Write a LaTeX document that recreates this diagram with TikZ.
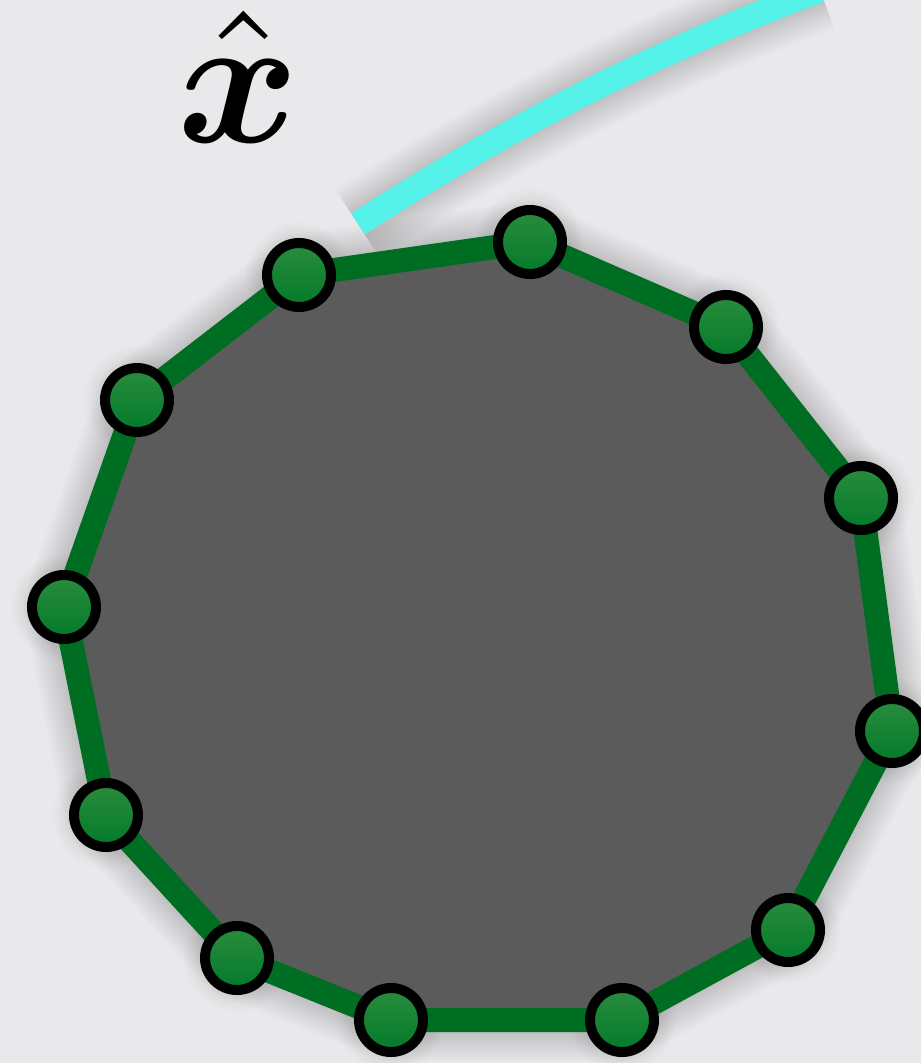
\documentclass[tikz,border=0pt]{standalone}
\usepackage{bm}
\definecolor{bgc}{HTML}{E9E8EA}
\definecolor{polyfill}{HTML}{5B5B5B}
\definecolor{edgegreen}{HTML}{006E22}
\definecolor{nodetop}{HTML}{2A8C3E}
\definecolor{nodebot}{HTML}{037A2A}
\definecolor{cyanline}{HTML}{55F2EA}
\pgfdeclarelayer{background}
\pgfsetlayers{background,main}
\tikzset{
  vert/.style={circle,draw=black,line width=10pt,minimum size=64pt,inner sep=0pt,
    top color=nodetop,bottom color=nodebot},
  polyedge/.style={draw=edgegreen,line width=24pt,line join=round},
  curveline/.style={draw=cyanline,line width=25pt},
  shadowline/.style={draw=black,opacity=0.016,line join=round,line cap=round}
}
\begin{document}
\begin{tikzpicture}[x=1pt,y=-1pt]
\useasboundingbox (0,0) rectangle (921,1063);
% vertices
\coordinate (p1) at (530,242);
\coordinate (p2) at (726,327);
\coordinate (p3) at (861,498);
\coordinate (p4) at (892,731);
\coordinate (p5) at (788,930);
\coordinate (p6) at (622,1020);
\coordinate (p7) at (391,1020);
\coordinate (p8) at (237,958);
\coordinate (p9) at (106,815);
\coordinate (p10) at (64,607);
\coordinate (p11) at (137,400);
\coordinate (p12) at (299,275);
\coordinate (c0) at (358,224);
\coordinate (c1) at (820,-10);
% nodes
\foreach \i in {1,...,12}{\node[vert] (v\i) at (p\i) {};}
\node[scale=18.5] (lbl) at (238,77) {$\hat{\bm{x}}$};
\begin{pgfonlayer}{background}
\fill[bgc] (0,0) rectangle (921,1063);
% shadows
\foreach \w in {28,34,...,82}{
  \draw[shadowline,line width=\w pt] (p1)--(p2)--(p3)--(p4)--(p5)--(p6)--(p7)--(p8)--(p9)--(p10)--(p11)--(p12)--cycle;
  \draw[shadowline,line width=\w pt,line cap=butt] (c0) .. controls (515,122) and (672,45) .. (c1);
  \foreach \i in {1,...,12}{\fill[black,opacity=0.011] (p\i) circle ({\w/2+12});}
}
% polygon
\fill[polyfill] (p1)--(p2)--(p3)--(p4)--(p5)--(p6)--(p7)--(p8)--(p9)--(p10)--(p11)--(p12)--cycle;
\draw[polyedge] (v1.center)--(v2.center)--(v3.center)--(v4.center)--(v5.center)--(v6.center)--(v7.center)--(v8.center)--(v9.center)--(v10.center)--(v11.center)--(v12.center)--cycle;
% cyan curve
\draw[curveline] (c0) .. controls (515,122) and (672,45) .. (c1);
\end{pgfonlayer}
\end{tikzpicture}
\end{document}
